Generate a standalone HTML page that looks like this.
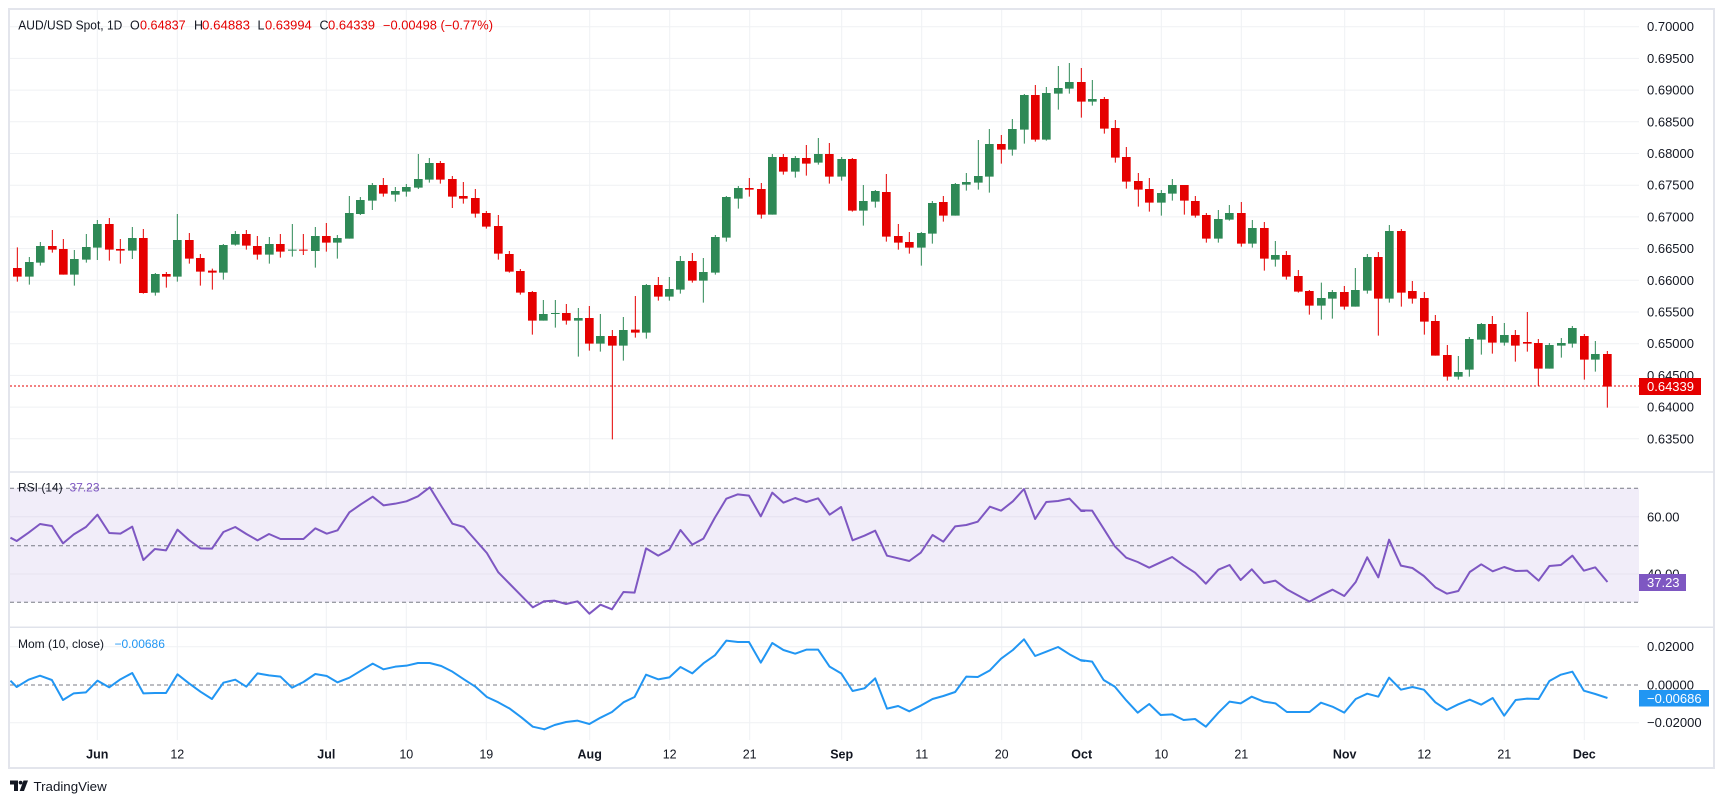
<!DOCTYPE html>
<html><head><meta charset="utf-8"><style>
html,body{margin:0;padding:0;background:#fff;}
svg{display:block}
</style></head><body>
<svg width="1723" height="803" viewBox="0 0 1723 803" xmlns="http://www.w3.org/2000/svg" font-family="'Liberation Sans', Arial, sans-serif">
<defs>
<clipPath id="plot"><rect x="10" y="10" width="1629" height="730"/></clipPath>
</defs>
<rect width="1723" height="803" fill="#fff"/>

<!-- grid -->
<g stroke="#eff1f4" stroke-width="1" fill="none">
<path d="M97.3 10V740M177.3 10V740M326.3 10V740M406.3 10V740M486.3 10V740M589.7 10V740M669.7 10V740M749.7 10V740M841.7 10V740M921.7 10V740M1001.7 10V740M1081.7 10V740M1161.3 10V740M1241.3 10V740M1344.7 10V740M1424.3 10V740M1504.3 10V740M1584.3 10V740"/>
<path d="M10 26.7H1639M10 58.4H1639M10 90.1H1639M10 121.8H1639M10 153.5H1639M10 185.2H1639M10 216.9H1639M10 248.6H1639M10 280.3H1639M10 312H1639M10 343.7H1639M10 375.4H1639M10 407.1H1639M10 438.8H1639"/>
<path d="M10 646.7H1639M10 722.7H1639"/>
</g>

<!-- RSI background -->
<rect x="10" y="488.3" width="1629" height="114" fill="#f1edf9"/>
<path d="M10 516.8H1639M10 574H1639" stroke="#e6e2ef" stroke-width="1"/>
<g stroke="#787b86" stroke-width="1" stroke-dasharray="4 3" fill="none">
<path d="M10 488.3H1639M10 545.7H1639M10 602.3H1639M10 685H1639"/>
</g>

<!-- panel separators & frame -->
<path d="M10 472H1713M10 627.3H1713" stroke="#e0e3eb" stroke-width="1.5"/>
<rect x="9" y="9" width="1705" height="759" fill="none" stroke="#e3e5ec" stroke-width="2"/>

<!-- current price line -->
<path d="M10 386H1639" stroke="#e50000" stroke-width="1" stroke-dasharray="2 2"/>

<g clip-path="url(#plot)" fill="none">
<!-- Candles zoom 4 -->
<g transform="translate(8 180) scale(0.333333)">
<path stroke="#2e8956" stroke-width="3" d="M64 231V314M97 186V257M199 210V317M235 162V248M268 120V240M373 141V237M442 279V347M508 102V305M646 192V299M682 153V197M784 171V251M853 132V230"/>
<path stroke="#2e8956" stroke-width="26" d="M64 246V290M97 198V248M199 237V284M235 201V239M268 132V203M373 174V212M442 282V338M508 180V290M646 195V278M682 162V194M784 192V224M853 209V212"/>
<path stroke="#e50000" stroke-width="3" d="M28 202V305M133 150V218M166 177V284M304 114V242M337 177V251M406 147V341M475 276V323M544 159V251M577 222V317M613 266V329M715 150V209M748 168V239M817 162V233"/>
<path stroke="#e50000" stroke-width="26" d="M28 264V290M133 198V209M166 207V284M304 132V209M337 207V212M406 174V339M475 282V290M544 180V236M577 234V275M613 272V278M715 162V197M748 198V224M817 192V215"/>
</g>
<!-- Candles zoom 5 -->
<g transform="translate(290 140) scale(0.333333)">
<path stroke="#2e8956" stroke-width="3" d="M76 261V383M142 285V356M178 168V296M211 171V225M247 129V210M316 141V185M349 132V170M385 42V147M418 54V128M760 480V542M796 480V563"/>
<path stroke="#2e8956" stroke-width="26" d="M76 288V333M142 294V308M178 219V296M211 180V222M247 135V182M316 153V164M349 141V155M385 117V143M418 69V119M760 522V542M796 519V522"/>
<path stroke="#e50000" stroke-width="3" d="M40 282V345M109 249V335M280 114V170M451 63V131M487 108V204M520 126V191M556 147V233M589 213V266M625 225V359M658 333V398M691 387V464M727 453V584M829 492V554"/>
<path stroke="#e50000" stroke-width="26" d="M40 329V332M109 288V308M280 135V161M451 69V119M487 117V170M520 168V176M556 174V221M589 219V260M625 258V341M658 342V395M691 393V458M727 456V542M829 519V542"/>
</g>
<!-- Candles zoom 6 -->
<g transform="translate(560 120) scale(0.333333)">
<path stroke="#2e8956" stroke-width="3" d="M55 564V710M121 582V695M190 591V722M259 492V656M328 471V542M361 408V521M430 414V548M466 345V464M499 228V365M535 198V266M637 102V284M706 108V173M775 54V134"/>
<path stroke="#2e8956" stroke-width="26" d="M55 594V602M121 648V671M190 630V677M259 495V638M328 507V530M361 423V509M430 456V482M466 351V458M499 231V353M535 204V236M637 111V284M706 114V155M775 102V128"/>
<path stroke="#e50000" stroke-width="3" d="M88 558V692M157 630V958M226 528V653M295 471V542M397 399V488M568 174V230M604 189V296M670 102V164M739 75V167M808 69V191"/>
<path stroke="#e50000" stroke-width="26" d="M88 594V671M157 648V677M226 629V638M295 495V530M397 423V482M568 204V209M604 207V284M670 111V155M739 114V131M808 102V170"/>
</g>
<!-- Candles zoom 7 -->
<g transform="translate(830 45) scale(0.333333)">
<path stroke="#2e8956" stroke-width="3" d="M35 336V407M100 420V542M136 435V488M274 561V662M307 468V596M376 414V512M409 384V437M445 285V434M478 252V443M547 222V332M583 147V296M649 126V287M685 63V194M718 54V146M787 105V182"/>
<path stroke="#2e8956" stroke-width="26" d="M35 342V395M100 468V497M136 438V470M274 564V608M307 474V566M376 417V512M409 411V419M445 393V413M478 297V395M547 252V314M583 150V254M649 144V284M685 129V146M718 111V131M787 162V170"/>
<path stroke="#e50000" stroke-width="3" d="M67 339V500M169 387V590M205 537V614M238 561V626M340 453V530M514 270V356M616 120V290M754 69V218M823 156V266"/>
<path stroke="#e50000" stroke-width="26" d="M67 342V497M169 441V575M205 573V593M238 591V608M340 471V512M514 297V314M616 150V284M754 111V170M823 162V251"/>
</g>
<!-- Candles zoom 8 -->
<g transform="translate(1100 100) scale(0.333333)">
<path stroke="#2e8956" stroke-width="3" d="M184 270V347M217 237V302M355 330V428M388 315V362M457 360V443M526 423V500M664 548V659M697 570V656M766 504V620M802 462V581"/>
<path stroke="#2e8956" stroke-width="26" d="M184 279V308M217 255V281M355 357V416M388 339V359M457 384V431M526 465V479M664 594V617M697 576V596M766 570V620M802 471V572"/>
<path stroke="#e50000" stroke-width="3" d="M46 60V188M79 141V266M115 219V320M148 234V335M253 255V344M286 288V353M319 339V428M424 306V440M493 366V512M559 453V539M595 510V578M628 570V644M733 558V629"/>
<path stroke="#e50000" stroke-width="26" d="M46 84V173M79 171V245M115 243V269M148 267V308M253 255V302M286 303V347M319 345V416M424 339V431M493 384V476M559 465V530M595 528V575M628 573V617M733 576V620"/>
</g>
<!-- Candles zoom 9 -->
<g transform="translate(1370 200) scale(0.333333)">
<path stroke="#2e8956" stroke-width="3" d="M58 75V308M265 468V539M298 411V530M334 369V464M403 369V437M538 429V506M574 414V473M607 378V443M676 423V515"/>
<path stroke="#2e8956" stroke-width="26" d="M58 93V296M265 516V530M298 417V509M334 372V419M403 405V428M538 435V506M574 429V437M607 384V431M676 462V479"/>
<path stroke="#e50000" stroke-width="3" d="M25 156V407M94 87V320M127 243V311M163 276V404M196 345V467M232 435V542M367 348V461M436 390V485M472 336V455M505 417V557M643 402V539M712 453V623"/>
<path stroke="#e50000" stroke-width="26" d="M25 171V296M94 93V278M127 273V296M163 294V365M196 363V467M232 465V530M367 372V428M436 405V437M472 426V431M505 429V506M643 408V479M712 462V560"/>
</g>

<!-- RSI line -->
<g stroke="#7e57c2" stroke-width="2" stroke-linejoin="round" fill="none">
<polyline vector-effect="non-scaling-stroke" transform="translate(0 470) scale(0.348 0.333333)" points="30,203 48,213 82,188 115,162 149,168 181,220 212,193 247,171 280,134 314,189 346,191 380,170 412,270 445,237 477,241 510,179 543,210 576,235 609,236 642,186 676,171 708,192 740,211 773,192 806,207 839,207 872,207 906,175 939,191 970,181 1004,127 1037,103 1071,80 1102,106 1136,101 1168,94 1201,79 1235,52 1268,108 1300,161 1333,171 1366,210 1399,249 1432,307 1465,342 1498,377 1531,412 1565,393"/>
<polyline vector-effect="non-scaling-stroke" transform="translate(540 470) scale(0.3477 0.333333)" points="10,394 42,392 75,402 108,394 142,431 174,404 207,418 240,366 272,368 305,235 340,257 372,239 404,180 438,224 470,206 503,143 536,86 569,73 601,77 635,139 668,68 700,98 734,84 766,96 800,85 833,134 866,111 899,211 933,197 964,182 998,257 1030,265 1062,273 1095,248 1129,195 1160,215 1194,169 1226,165 1259,155 1294,110 1326,122 1360,94 1392,57 1424,147 1456,96 1490,93 1523,86 1557,123 1568,123"/>
<polyline vector-effect="non-scaling-stroke" transform="translate(1080 470) scale(0.3477 0.333333)" points="0,121 35,122 68,176 100,229 133,263 166,276 199,293 232,277 265,261 298,286 331,308 362,341 398,299 430,285 462,330 494,298 529,339 562,332 595,358 628,377 660,395 693,376 726,359 760,378 793,336 826,262 858,322 889,209 923,287 956,294 989,318 1022,352 1055,371 1088,363 1121,306 1154,283 1187,304 1220,291 1253,303 1286,302 1319,332 1350,288 1383,285 1416,257 1449,302 1482,292 1517,336"/>
</g>

<!-- Momentum line -->
<g stroke="#2196f3" stroke-width="2" stroke-linejoin="round" fill="none">
<polyline vector-effect="non-scaling-stroke" transform="translate(0 470) scale(0.348 0.333333)" points="30,632 48,651 82,629 115,617 149,630 181,690 212,670 247,667 280,632 314,652 346,628 380,609 412,670 445,669 477,669 510,613 543,640 576,665 609,687 642,638 676,629 708,650 740,610 773,616 806,620 839,653 872,636 906,612 939,618 970,637 1004,623 1037,602 1071,581 1102,598 1136,590 1168,587 1201,579 1235,579 1268,588 1300,605 1333,628 1366,650 1399,681 1432,697 1465,716 1498,742 1531,770 1565,778"/>
<polyline vector-effect="non-scaling-stroke" transform="translate(540 470) scale(0.3477 0.333333)" points="10,779 42,765 75,756 108,752 142,762 174,743 207,726 240,697 272,681 305,614 340,628 372,622 404,591 438,610 470,580 503,556 536,512 569,516 601,516 635,578 668,519 700,540 734,551 766,539 800,539 833,590 866,610 899,663 933,655 964,625 998,716 1030,708 1062,724 1095,707 1129,687 1160,678 1194,666 1226,620 1259,621 1294,601 1326,566 1360,540 1392,508 1424,558 1456,545 1490,531 1523,553 1557,572 1568,573"/>
<polyline vector-effect="non-scaling-stroke" transform="translate(1080 470) scale(0.3477 0.333333)" points="0,570 35,575 68,630 100,650 133,691 166,728 199,702 232,735 265,733 298,750 331,747 362,770 398,728 430,695 462,700 494,680 529,695 562,700 595,726 628,726 660,726 693,698 726,710 760,728 793,687 826,671 858,680 889,623 923,659 956,651 989,659 1022,697 1055,720 1088,703 1121,689 1154,704 1187,684 1220,737 1253,690 1286,686 1319,687 1350,633 1383,614 1416,605 1449,662 1482,672 1517,684"/>
</g>
</g>

<!-- Header -->
<g font-size="12.5" fill="#131722">
<text x="18.3" y="29.5" textLength="104" lengthAdjust="spacingAndGlyphs">AUD/USD Spot, 1D</text>
<text x="130" y="29.5">O</text><text x="140" y="29.5" fill="#e50000" textLength="45.7" lengthAdjust="spacingAndGlyphs">0.64837</text>
<text x="194" y="29.5">H</text><text x="202" y="29.5" fill="#e50000" textLength="48" lengthAdjust="spacingAndGlyphs">0.64883</text>
<text x="257.5" y="29.5">L</text><text x="265" y="29.5" fill="#e50000" textLength="46.7" lengthAdjust="spacingAndGlyphs">0.63994</text>
<text x="319.5" y="29.5">C</text><text x="328" y="29.5" fill="#e50000" textLength="47" lengthAdjust="spacingAndGlyphs">0.64339</text>
<text x="383" y="29.5" fill="#e50000" textLength="110" lengthAdjust="spacingAndGlyphs">−0.00498 (−0.77%)</text>
</g>

<!-- Indicator labels -->
<g font-size="12">
<text x="18" y="491.5" fill="#131722">RSI (14)</text>
<text x="69.5" y="491.5" fill="#7e57c2">37.23</text>
<text x="18" y="648" fill="#131722">Mom (10, close)</text>
<text x="114.5" y="648" fill="#2196f3">−0.00686</text>
</g>

<!-- Price axis labels -->
<g font-size="13" fill="#131722">
<text x="1647" y="31.2">0.70000</text>
<text x="1647" y="62.9">0.69500</text>
<text x="1647" y="94.6">0.69000</text>
<text x="1647" y="126.3">0.68500</text>
<text x="1647" y="158">0.68000</text>
<text x="1647" y="189.7">0.67500</text>
<text x="1647" y="221.4">0.67000</text>
<text x="1647" y="253.1">0.66500</text>
<text x="1647" y="284.8">0.66000</text>
<text x="1647" y="316.5">0.65500</text>
<text x="1647" y="348.2">0.65000</text>
<text x="1647" y="379.9">0.64500</text>
<text x="1647" y="411.6">0.64000</text>
<text x="1647" y="443.3">0.63500</text>
<text x="1647" y="521.3">60.00</text>
<text x="1647" y="578.5">40.00</text>
<text x="1647" y="651.2">0.02000</text>
<text x="1647" y="689.5">0.00000</text>
<text x="1647" y="727.2">−0.02000</text>
</g>

<!-- Value tags -->
<rect x="1639" y="378" width="62" height="17" fill="#e50000"/>
<text x="1647" y="391" font-size="13" fill="#fff">0.64339</text>
<rect x="1639" y="574" width="47" height="17" fill="#7e57c2"/>
<text x="1647" y="587" font-size="13" fill="#fff">37.23</text>
<rect x="1639" y="690" width="70" height="16.5" fill="#2196f3"/>
<text x="1647" y="702.8" font-size="13" fill="#fff">−0.00686</text>

<!-- Time axis -->
<g font-size="12.5" fill="#131722" text-anchor="middle">
<text x="97.3" y="758.5" font-weight="bold">Jun</text>
<text x="177.3" y="758.5">12</text>
<text x="326.3" y="758.5" font-weight="bold">Jul</text>
<text x="406.3" y="758.5">10</text>
<text x="486.3" y="758.5">19</text>
<text x="589.7" y="758.5" font-weight="bold">Aug</text>
<text x="669.7" y="758.5">12</text>
<text x="749.7" y="758.5">21</text>
<text x="841.7" y="758.5" font-weight="bold">Sep</text>
<text x="921.7" y="758.5">11</text>
<text x="1001.7" y="758.5">20</text>
<text x="1081.7" y="758.5" font-weight="bold">Oct</text>
<text x="1161.3" y="758.5">10</text>
<text x="1241.3" y="758.5">21</text>
<text x="1344.7" y="758.5" font-weight="bold">Nov</text>
<text x="1424.3" y="758.5">12</text>
<text x="1504.3" y="758.5">21</text>
<text x="1584.3" y="758.5" font-weight="bold">Dec</text>
</g>

<!-- TradingView logo -->
<g fill="#131722">
<path d="M10 780.5h8v10.5h-4v-6.5h-4z"/>
<circle cx="20.6" cy="782.6" r="1.9"/>
<path d="M23.5 780.5h4.5l-4 10.5h-4.3z"/>
</g>
<text x="33.5" y="791" font-size="13.3" fill="#131722">TradingView</text>
</svg>
</body></html>
